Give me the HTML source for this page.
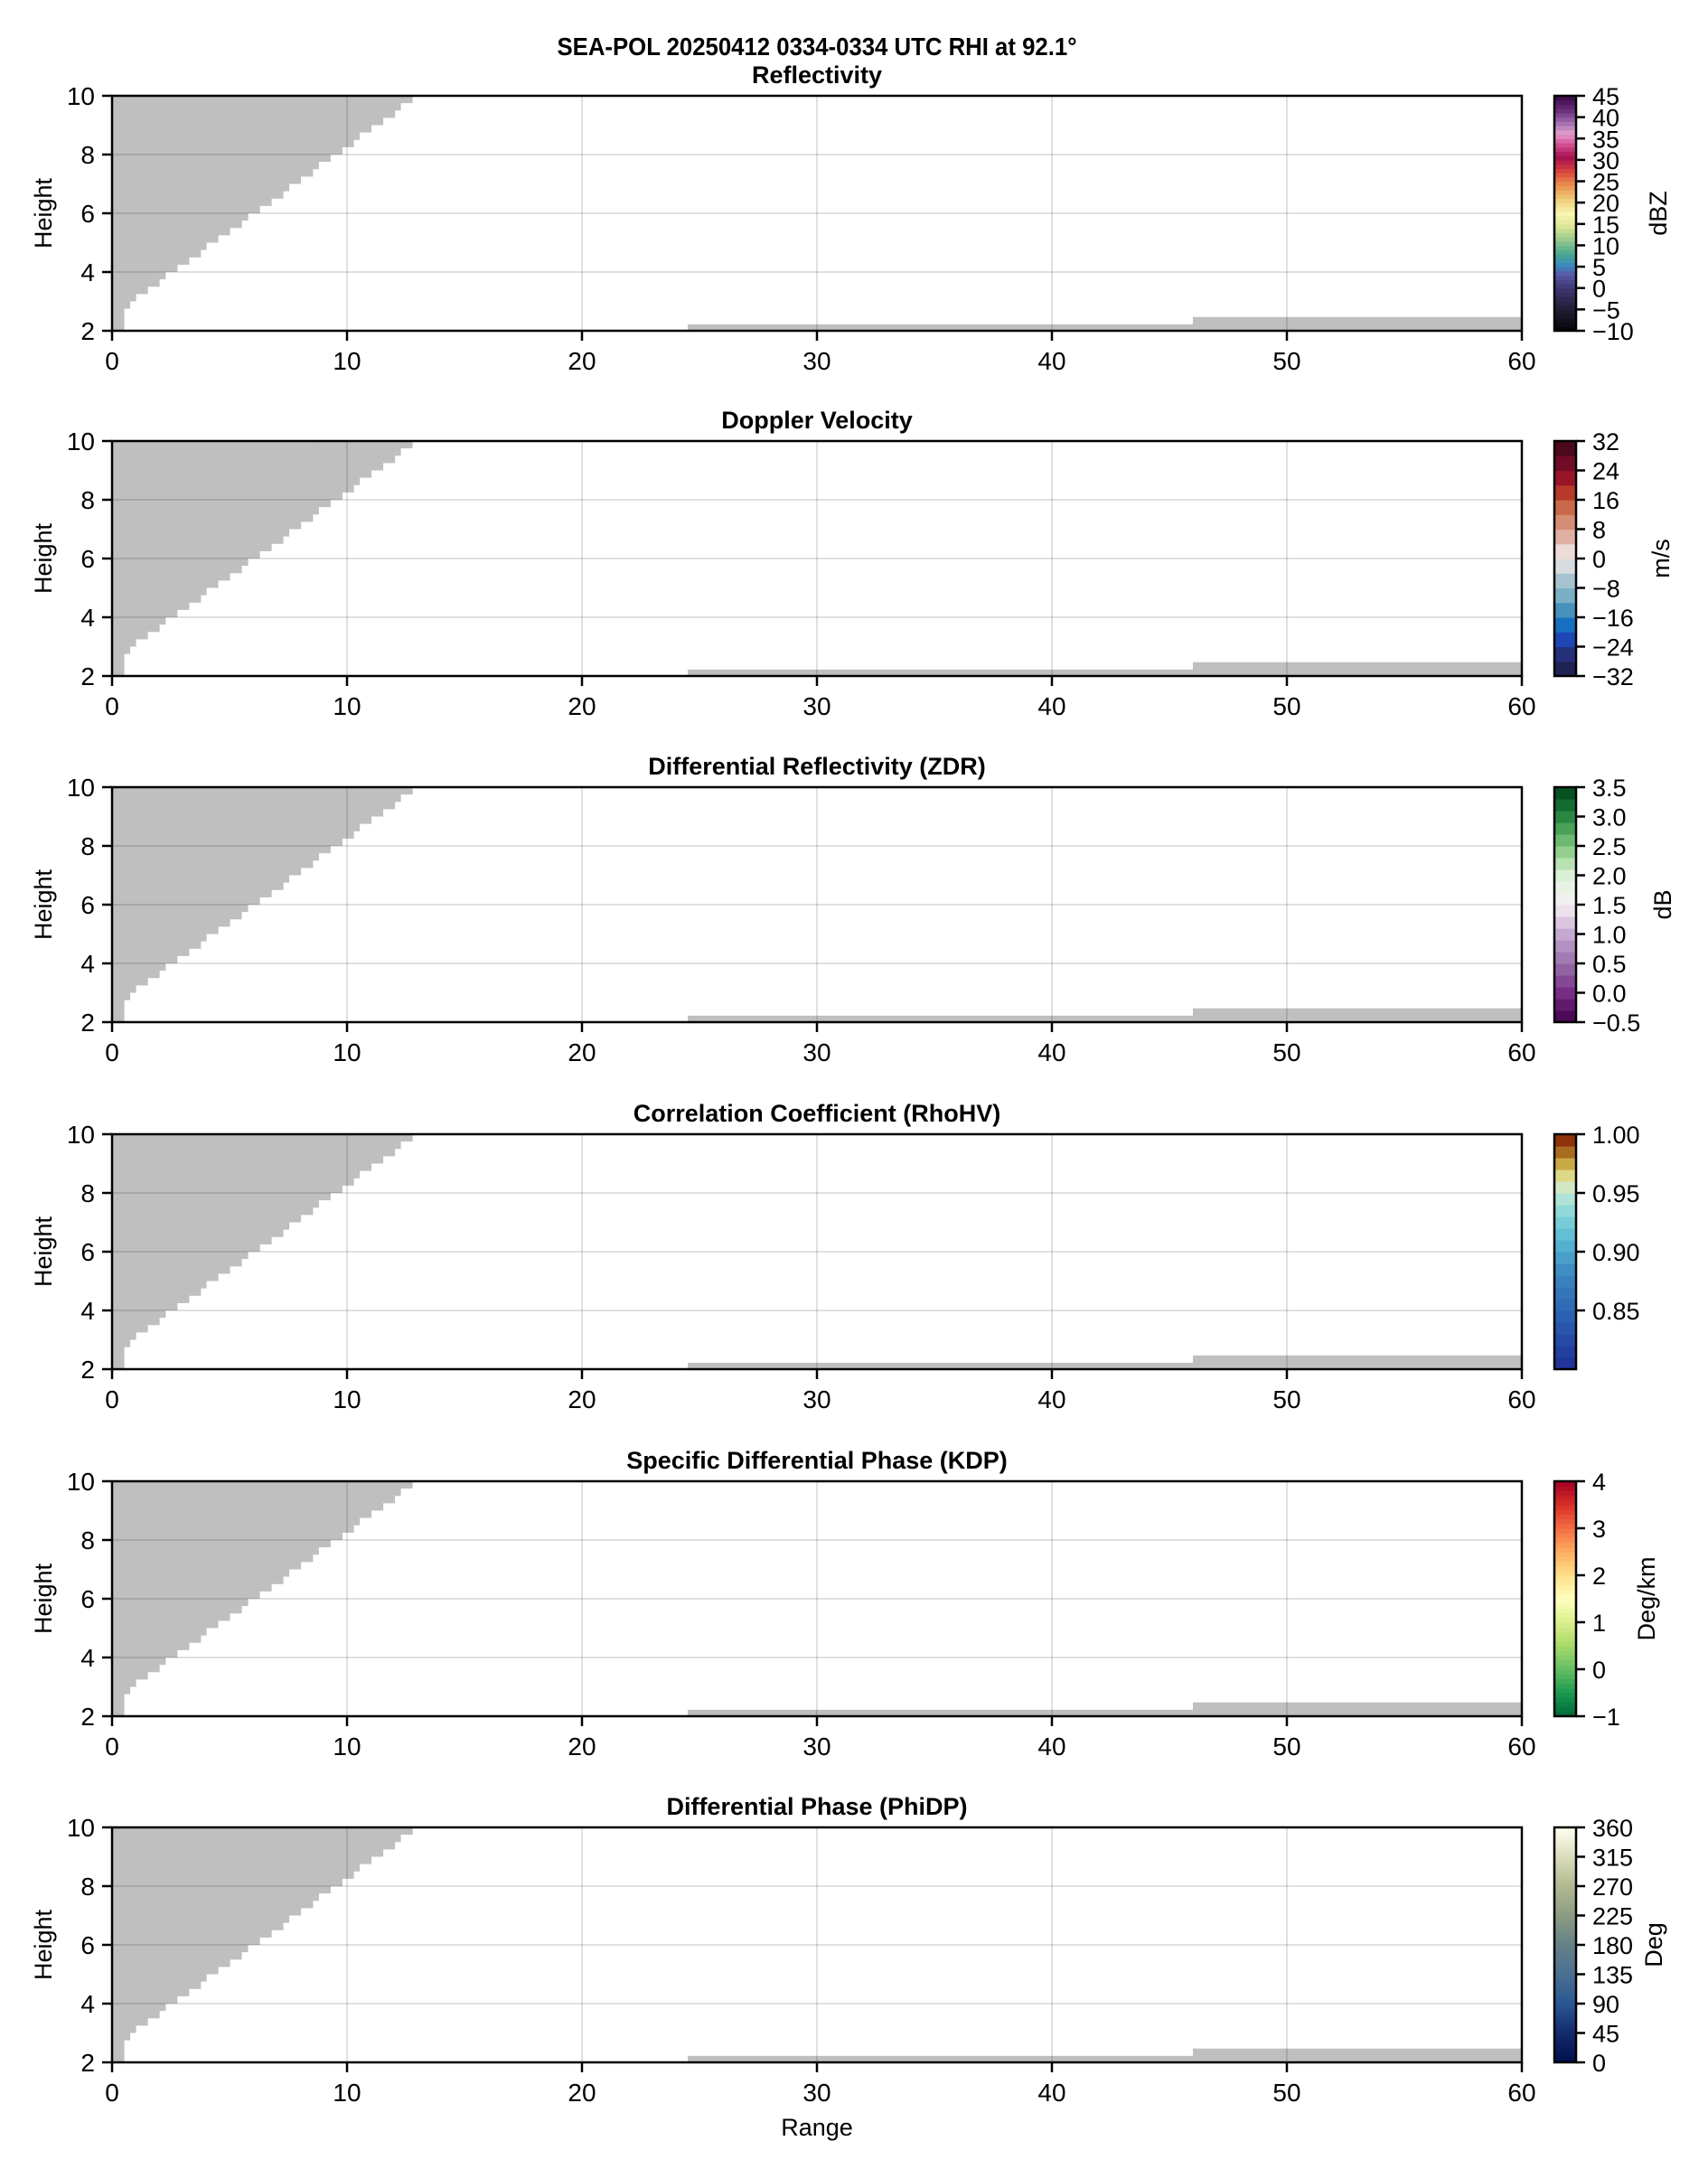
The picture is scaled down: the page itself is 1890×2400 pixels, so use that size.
<!DOCTYPE html>
<html><head><meta charset="utf-8"><style>
html,body{margin:0;padding:0;background:#fff;}
svg{display:block;font-family:"Liberation Sans",Arial,sans-serif;}
</style></head><body>
<svg id="s" xmlns="http://www.w3.org/2000/svg" width="1890" height="2400" viewBox="0 0 1890 2400"></svg>
<script>
const S=document.getElementById('s');
let h='';
const X0=124,X1=1684,H=260,KM=(X1-X0)/60;
const tops=[106,488,871,1255,1639,2022];
const titles=['Reflectivity','Doppler Velocity','Differential Reflectivity (ZDR)','Correlation Coefficient (RhoHV)','Specific Differential Phase (KDP)','Differential Phase (PhiDP)'];
const steps=[[0,0.5,2],[0.5,0.75,2.75],[0.75,1.0,3.0],[1.0,1.5,3.25],[1.5,2.0,3.5],[2.0,2.26,3.75],[2.26,2.76,4.0],[2.76,3.26,4.25],[3.26,3.76,4.5],[3.76,4.0,4.75],[4.0,4.5,5.0],[4.5,5.0,5.25],[5.0,5.5,5.5],[5.5,5.77,5.75],[5.77,6.27,6.0],[6.27,6.77,6.25],[6.77,7.27,6.5],[7.27,7.52,6.75],[7.52,8.02,7.0],[8.02,8.53,7.25],[8.53,8.78,7.5],[8.78,9.28,7.75],[9.28,9.78,8.0],[9.78,10.27,8.25],[10.27,10.52,8.5],[10.52,11.02,8.75],[11.02,11.52,9.0],[11.52,12.02,9.25],[12.02,12.27,9.5],[12.27,12.77,9.75]];
function hex(c){return [parseInt(c.slice(1,3),16),parseInt(c.slice(3,5),16),parseInt(c.slice(5,7),16)];}
function interp(stops,t){
 for(let i=0;i<stops.length-1;i++){
  if(t<=stops[i+1][0]){const a=stops[i],b=stops[i+1];const f=(t-a[0])/(b[0]-a[0]||1);
   const ca=hex(a[1]),cb=hex(b[1]);return 'rgb('+ca.map((v,k)=>Math.round(v+(cb[k]-v)*f)).join(',')+')';}
 }
 return stops[stops.length-1][1];
}
const cbs=[
 {min:-10,max:45,ticks:[-10,-5,0,5,10,15,20,25,30,35,40,45],n:55,lab:'dBZ',lx:1835,
  st:[[0,'#050308'],[0.09,'#211c33'],[0.18,'#3d3670'],[0.24,'#5a58a8'],[0.28,'#3a8abf'],[0.33,'#4ba890'],[0.38,'#8ec48c'],[0.45,'#dfe898'],[0.5,'#f7f6b0'],[0.56,'#f0cc7a'],[0.62,'#eb9050'],[0.68,'#d9443c'],[0.74,'#a4104e'],[0.79,'#d04a8e'],[0.84,'#e29ccd'],[0.88,'#a876b4'],[0.94,'#6a2e7a'],[1,'#3a0848']]},
 {min:-32,max:32,ticks:[-32,-24,-16,-8,0,8,16,24,32],n:16,lab:'m/s',lx:1838,
  st:[[0,'#1a1c40'],[0.09,'#252f78'],[0.16,'#1f47b8'],[0.22,'#1670c0'],[0.28,'#4690bc'],[0.34,'#77aec4'],[0.41,'#a9c3d0'],[0.47,'#d8dde0'],[0.53,'#ecdcd8'],[0.59,'#e1b3a6'],[0.66,'#d48a70'],[0.72,'#c96848'],[0.78,'#b83a2a'],[0.84,'#9c1428'],[0.91,'#6e0c28'],[1,'#3c0816']]},
 {min:-0.5,max:3.5,ticks:[-0.5,0,0.5,1,1.5,2,2.5,3,3.5],n:20,lab:'dB',lx:1840,fmt:1,
  st:[[0,'#40004b'],[0.12,'#762a83'],[0.25,'#9970ab'],[0.37,'#c2a5cf'],[0.45,'#e7d4e8'],[0.5,'#f2eef2'],[0.55,'#eef2ec'],[0.63,'#d9f0d3'],[0.7,'#a6dba0'],[0.8,'#5aae61'],[0.9,'#1b7837'],[1,'#00441b']]},
 {min:0.8,max:1.0,ticks:[0.85,0.9,0.95,1.0],n:20,lab:'',lx:0,fmt:2,
  st:[[0,'#1e2f96'],[0.2,'#2a5ab0'],[0.4,'#3a86c0'],[0.55,'#58b8d2'],[0.65,'#80d4d8'],[0.75,'#c0e8d6'],[0.8,'#e2e8b0'],[0.85,'#d8c860'],[0.9,'#b88a2c'],[0.95,'#9a4c14'],[1,'#801800']]},
 {min:-1,max:4,ticks:[-1,0,1,2,3,4],n:50,lab:'Deg/km',lx:1822,
  st:[[0,'#006837'],[0.1,'#1a9850'],[0.2,'#66bd63'],[0.3,'#a6d96a'],[0.4,'#d9ef8b'],[0.5,'#ffffbf'],[0.6,'#fee08b'],[0.7,'#fdae61'],[0.8,'#f46d43'],[0.9,'#d73027'],[1,'#a50026']]},
 {min:0,max:360,ticks:[0,45,90,135,180,225,270,315,360],n:72,lab:'Deg',lx:1830,
  st:[[0,'#00104d'],[0.12,'#12286a'],[0.25,'#2a5694'],[0.38,'#4c7090'],[0.5,'#64808a'],[0.62,'#8a9a80'],[0.75,'#b0b890'],[0.87,'#d8dab8'],[1,'#fffff0']]}
];
function fmtv(v,d){let s=d?v.toFixed(d):String(v);return s.replace('-','\u2212');}
h+='<text x="904" y="61" font-size="28" font-weight="bold" text-anchor="middle" textLength="575" lengthAdjust="spacingAndGlyphs">SEA-POL 20250412 0334-0334 UTC RHI at 92.1°</text>';
tops.forEach((T,p)=>{
 const B=T+H;
 const ky=v=>B-(v-2)/8*H, kx=v=>X0+v*KM;
 h+=`<text x="904" y="${T-14}" font-size="27" font-weight="bold" text-anchor="middle">${titles[p]}</text>`;
 steps.forEach(s=>{h+=`<rect x="${kx(s[0]).toFixed(1)}" y="${T}" width="${((s[1]-s[0])*KM+0.6).toFixed(1)}" height="${(ky(s[2])-T).toFixed(1)}" fill="#bfbfbf"/>`;});
 h+=`<rect x="${kx(24.5)}" y="${ky(2.22)}" width="${kx(46)-kx(24.5)+0.5}" height="${B-ky(2.22)}" fill="#bfbfbf"/>`;
 h+=`<rect x="${kx(46)}" y="${ky(2.47)}" width="${kx(60)-kx(46)}" height="${B-ky(2.47)}" fill="#bfbfbf"/>`;
 for(let v=10;v<60;v+=10)h+=`<line x1="${kx(v)}" x2="${kx(v)}" y1="${T}" y2="${B}" stroke="rgba(0,0,0,0.12)" stroke-width="2"/>`;
 for(let v=4;v<10;v+=2)h+=`<line x1="${X0}" x2="${X1}" y1="${ky(v)}" y2="${ky(v)}" stroke="rgba(0,0,0,0.12)" stroke-width="2"/>`;
 h+=`<rect x="${X0}" y="${T}" width="${X1-X0}" height="${H}" fill="none" stroke="#000" stroke-width="2.5"/>`;
 for(let v=0;v<=60;v+=10){h+=`<line x1="${kx(v)}" x2="${kx(v)}" y1="${B}" y2="${B+11}" stroke="#000" stroke-width="2.5"/><text x="${kx(v)}" y="${B+43}" font-size="28" text-anchor="middle">${v}</text>`;}
 for(let v=2;v<=10;v+=2){h+=`<line x1="${X0-11}" x2="${X0}" y1="${ky(v)}" y2="${ky(v)}" stroke="#000" stroke-width="2.5"/><text x="${X0-19}" y="${ky(v)+10}" font-size="28" text-anchor="end">${v}</text>`;}
 h+=`<text transform="translate(57,${T+H/2}) rotate(-90)" font-size="27" text-anchor="middle">Height</text>`;
 const c=cbs[p],CX=1720,CW=24;
 for(let i=0;i<c.n;i++){
  const t=(i+0.5)/c.n;const y0=B-(i+1)/c.n*H;
  h+=`<rect x="${CX}" y="${y0.toFixed(2)}" width="${CW}" height="${(H/c.n+0.6).toFixed(2)}" fill="${interp(c.st,t)}"/>`;
 }
 h+=`<rect x="${CX}" y="${T}" width="${CW}" height="${H}" fill="none" stroke="#000" stroke-width="2.5"/>`;
 c.ticks.forEach(v=>{const y=B-(v-c.min)/(c.max-c.min)*H;
  h+=`<line x1="${CX+CW}" x2="${CX+CW+10}" y1="${y}" y2="${y}" stroke="#000" stroke-width="2.5"/><text x="${CX+CW+18}" y="${y+10}" font-size="27">${fmtv(v,c.fmt)}</text>`;});
 if(c.lab)h+=`<text transform="translate(${c.lx+9},${T+H/2}) rotate(-90)" font-size="27" text-anchor="middle">${c.lab}</text>`;
});
h+='<text x="904" y="2363" font-size="27" text-anchor="middle">Range</text>';
S.innerHTML=h;
</script>
</body></html>
